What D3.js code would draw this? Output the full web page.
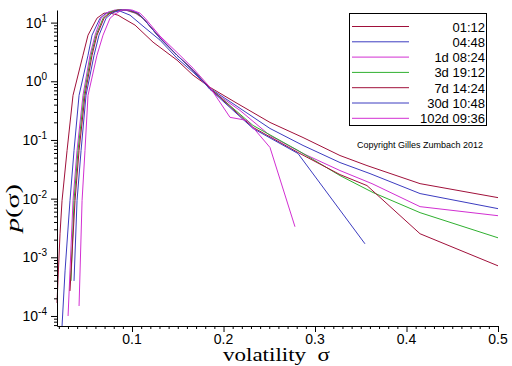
<!DOCTYPE html>
<html>
<head>
<meta charset="utf-8">
<script src="https://cdn.jsdelivr.net/npm/d3@7/dist/d3.min.js"></script>
<style>
body { margin: 0; background: #fff; }
</style>
</head>
<body>
<div id="chart"></div>
<script>
const w = 512;
const h = 366;

// legend entries (time horizon of the volatility)
const horizons = ["01:12", "04:48", "1d 08:24", "3d 19:12", "7d 14:24", "30d 10:48", "102d 09:36"];
const lineColors = ["#a0103a", "#3c3cc0", "#d22fd2", "#2fb02f", "#a0103a", "#3c3cc0", "#d22fd2"];

// [sigma, p(sigma)]
const p0112 = [[0.018, 1.67e-4], [0.0213, 2.52e-3], [0.0235, 9.25e-3], [0.029, 0.0662], [0.0355, 0.576],
  [0.0464, 2.78], [0.0519, 6.11], [0.0617, 11.9], [0.0694, 14.5], [0.076, 14.5], [0.0847, 13.4],
  [0.0902, 11.9], [0.1033, 9.06], [0.123, 4.64], [0.1492, 2.29], [0.1667, 1.27], [0.1852, 0.789],
  [0.2148, 0.421], [0.2508, 0.199], [0.2869, 0.110], [0.3273, 0.0543], [0.3568, 0.0366],
  [0.4148, 0.0180], [0.5, 0.0104]];
const p0448 = [[0.0235, 6.75e-5], [0.0268, 5.87e-4], [0.0322, 9.25e-3], [0.0366, 0.0662], [0.0421, 0.576],
  [0.0519, 2.78], [0.0563, 6.11], [0.065, 11.9], [0.0716, 14.5], [0.0792, 15.7], [0.0869, 15.7],
  [0.0978, 13.4], [0.112, 8.71], [0.1306, 5.02], [0.1492, 2.47], [0.1667, 1.43], [0.1852, 0.759],
  [0.2148, 0.374], [0.2508, 0.157], [0.2869, 0.0806], [0.3273, 0.0412], [0.3601, 0.0267],
  [0.4148, 0.0122], [0.5, 0.00675]];
const p1d = [[0.0301, 1.0e-4], [0.0355, 9.25e-3], [0.0399, 0.0662], [0.0464, 0.576], [0.0541, 2.78],
  [0.0596, 6.11], [0.0661, 11.9], [0.0738, 15.1], [0.0814, 16.4], [0.0923, 16.4], [0.1033, 14.5],
  [0.112, 11.9], [0.1306, 5.65], [0.1492, 2.78], [0.1667, 1.54], [0.1852, 0.730], [0.218, 0.319],
  [0.2508, 0.119], [0.2869, 0.0588], [0.3273, 0.0301], [0.3623, 0.0180], [0.4148, 0.0073], [0.5, 0.00512]];
const p3d = [[0.0333, 3.96e-4], [0.0366, 9.25e-3], [0.041, 0.0662], [0.0475, 0.576], [0.0552, 2.78],
  [0.0607, 6.11], [0.0683, 11.9], [0.076, 15.1], [0.0836, 16.4], [0.0934, 16.4], [0.1044, 14.5],
  [0.112, 11.9], [0.1306, 5.43], [0.1492, 2.78], [0.1667, 1.54], [0.1852, 0.759], [0.2322, 0.177],
  [0.2814, 0.0662], [0.3273, 0.0247], [0.3634, 0.0127], [0.4148, 0.00577], [0.5, 0.00215]];
const p7d = [[0.0322, 2.67e-4], [0.0377, 9.25e-3], [0.0421, 0.0662], [0.0486, 0.576], [0.0563, 2.78],
  [0.0617, 6.11], [0.0694, 11.9], [0.076, 14.5], [0.0847, 16.4], [0.0956, 16.4], [0.1055, 14.5],
  [0.112, 11.9], [0.1306, 5.43], [0.1492, 2.78], [0.1667, 1.54], [0.1852, 0.759], [0.2322, 0.164],
  [0.2814, 0.0611], [0.3273, 0.0257], [0.3568, 0.0167], [0.4148, 0.00252], [0.5, 7.16e-4]];
const p30d = [[0.0366, 3.96e-4], [0.0399, 9.25e-3], [0.0443, 0.0662], [0.0497, 0.576], [0.0585, 2.78],
  [0.0639, 6.11], [0.0716, 11.9], [0.0781, 14.5], [0.0869, 16.4], [0.0978, 16.4], [0.1066, 14.5],
  [0.112, 11.9], [0.1306, 5.43], [0.1492, 2.78], [0.1667, 1.54], [0.1852, 0.730], [0.2322, 0.157],
  [0.2814, 0.0588], [0.3546, 0.0017]];
const p102d = [[0.0421, 1.48e-4], [0.0454, 9.25e-3], [0.0486, 0.0662], [0.0519, 0.576], [0.0617, 2.78],
  [0.0683, 6.11], [0.076, 11.9], [0.0814, 14.0], [0.0891, 16.4], [0.1, 16.4], [0.1087, 14.5],
  [0.1142, 11.9], [0.1306, 5.9], [0.1492, 3.1], [0.1667, 1.67], [0.1852, 0.789], [0.2071, 0.243],
  [0.2257, 0.215], [0.2508, 0.0745], [0.2781, 0.00332]];

const series = [p0112, p0448, p1d, p3d, p7d, p30d, p102d];

const xTicksMajor = [0.1, 0.2, 0.3, 0.4, 0.5];
const yDecades = [-4, -3, -2, -1, 0, 1];

const plotL = 57, plotR = 498, plotT = 10, plotB = 326;

const allPts = series.flat();
const x = d3.scaleLinear()
    .domain(d3.extent(allPts, d => d[0]))
    .range([plotL, plotR]);
const y = d3.scaleLog()
    .domain(d3.extent(allPts, d => d[1]))
    .range([plotB, plotT]);

const svg = d3.select("#chart")
    .append("svg")
    .attr("width", w)
    .attr("height", h)
    .style("font-family", "'Liberation Sans', Arial, sans-serif");

// Curves
const line = d3.line()
    .x(d => x(d[0]))
    .y(d => y(d[1]));

svg.append("g")
    .attr("id", "curves")
    .selectAll("path")
    .data(series)
    .enter()
    .append("path")
    .attr("d", line)
    .attr("fill", "none")
    .attr("stroke", (d, i) => lineColors[i])
    .attr("stroke-width", 1);

// X axis
const xMinor = d3.range(2, 51).map(k => k / 100);
const xAxis = svg.append("g")
    .attr("transform", "translate(0," + plotB + ")")
    .call(d3.axisBottom(x)
        .tickValues(xMinor)
        .tickSize(3)
        .tickSizeOuter(0)
        .tickFormat(""));
xAxis.select(".domain").attr("stroke", "#000");
xAxis.selectAll(".tick line")
    .attr("y2", d => (Math.abs(d * 10 - Math.round(d * 10)) < 1e-6) ? 6 : 3);

svg.append("g")
    .selectAll("text")
    .data(xTicksMajor)
    .enter()
    .append("text")
    .attr("x", d => x(d))
    .attr("y", 344)
    .attr("text-anchor", "middle")
    .attr("font-size", 14)
    .text(d => d.toFixed(1));

// Y axis
const yAxis = svg.append("g")
    .attr("transform", "translate(" + plotL + ",0)")
    .call(d3.axisLeft(y)
        .tickSize(3)
        .tickSizeOuter(0)
        .tickFormat(""));
yAxis.select(".domain").attr("stroke", "#000");
yAxis.selectAll(".tick line")
    .attr("x2", d => (Math.abs(Math.log10(d) - Math.round(Math.log10(d))) < 1e-6) ? -6 : -3);

const yLab = svg.append("g")
    .selectAll("text")
    .data(yDecades)
    .enter()
    .append("text")
    .attr("x", 47)
    .attr("y", d => y(Math.pow(10, d)) + 5)
    .attr("text-anchor", "end")
    .attr("font-size", 14);
yLab.append("tspan").text("10");
yLab.append("tspan")
    .attr("dy", -6)
    .attr("font-size", 10)
    .text(d => d < 0 ? "-" + (-d) : String(d));

// Axis titles
svg.append("text")
    .attr("x", 223)
    .attr("y", 361)
    .attr("font-family", "'Liberation Serif', 'Times New Roman', serif")
    .attr("font-size", 18)
    .attr("xml:space", "preserve")
    .attr("textLength", 107)
    .attr("lengthAdjust", "spacingAndGlyphs")
    .text("volatility  σ");

const yTitle = svg.append("text")
    .attr("transform", "translate(19,232) rotate(-90)")
    .attr("font-family", "'Liberation Serif', 'Times New Roman', serif")
    .attr("font-size", 19)
    .attr("textLength", 48)
    .attr("lengthAdjust", "spacingAndGlyphs");
yTitle.append("tspan").attr("font-style", "italic").text("p");
yTitle.append("tspan").text("(σ)");

// Legend
const lg = svg.append("g").attr("id", "legend");
lg.append("rect")
    .attr("x", 349.5)
    .attr("y", 13.5)
    .attr("width", 137)
    .attr("height", 112)
    .attr("fill", "#fff")
    .attr("stroke", "#000")
    .attr("stroke-width", 1);

const rows = lg.selectAll(".row")
    .data(horizons)
    .enter()
    .append("g")
    .attr("class", "row")
    .attr("transform", (d, i) => "translate(0," + (26.5 + i * 15.3) + ")");
rows.append("line")
    .attr("x1", 352)
    .attr("x2", 409)
    .attr("stroke", (d, i) => lineColors[i])
    .attr("stroke-width", 1);
rows.append("text")
    .attr("x", 485)
    .attr("y", 5)
    .attr("text-anchor", "end")
    .attr("font-size", 13)
    .text(d => d);

svg.append("text")
    .attr("x", 420)
    .attr("y", 148)
    .attr("text-anchor", "middle")
    .attr("font-size", 9)
    .text("Copyright Gilles Zumbach 2012");
</script>
</body>
</html>
